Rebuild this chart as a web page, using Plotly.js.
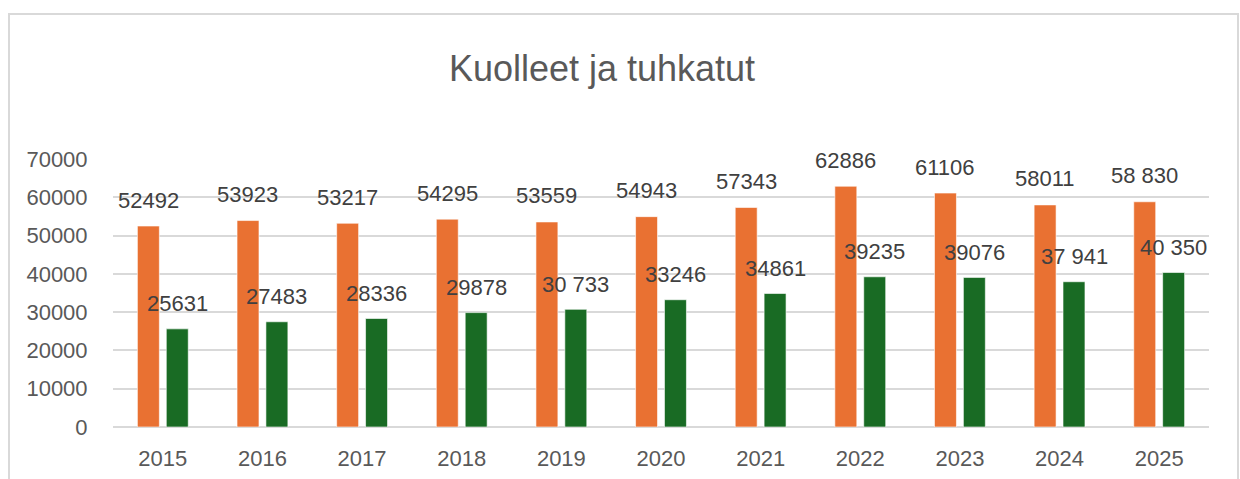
<!DOCTYPE html>
<html>
<head>
<meta charset="utf-8">
<script src="https://cdn.plot.ly/plotly-3.0.1.min.js"></script>
<style>
  html, body { margin: 0; padding: 0; background: #ffffff; }
  #wrap { position: relative; width: 1240px; height: 479px; overflow: hidden; }
  #chart { width: 1240px; height: 479px; }
  #frame { position: absolute; left: 8px; top: 13px; width: 1231px; height: 500px;
           border: 2px solid #d9d9d9; box-sizing: border-box; pointer-events: none; }
</style>
</head>
<body>
<div id="wrap">
  <div id="chart"></div>
  <div id="frame"></div>
</div>
<script>
const years = ["2015","2016","2017","2018","2019","2020","2021","2022","2023","2024","2025"];
const deaths = [52492, 53923, 53217, 54295, 53559, 54943, 57343, 62886, 61106, 58011, 58830];
const cremated = [25631, 27483, 28336, 29878, 30733, 33246, 34861, 39235, 39076, 37941, 40350];
const deathLabels = ["52492","53923","53217","54295","53559","54943","57343","62886","61106","58011","58 830"];
const crematedLabels = ["25631","27483","28336","29878","30 733","33246","34861","39235","39076","37 941","40 350"];
const yTicks = [0, 10000, 20000, 30000, 40000, 50000, 60000, 70000];
const titleText = "Kuolleet ja tuhkatut";

const FONT = "Liberation Sans, Arial, sans-serif";
const ORANGE = "#E97132";
const GREEN = "#196B24";

const traces = [
  { type: "bar", x: years, y: deaths, name: "Kuolleet",
    marker: { color: ORANGE, line: { color: "rgba(255,255,255,0.6)", width: 1 } },
    hoverinfo: "x+y" },
  { type: "bar", x: years, y: cremated, name: "Tuhkatut",
    marker: { color: GREEN, line: { color: "rgba(255,255,255,0.6)", width: 1 } },
    hoverinfo: "x+y" }
];

// category axis: annotations use the category's serial index
const annotations = [];
years.forEach((yr, i) => {
  annotations.push({ x: i, y: deaths[i], text: deathLabels[i], showarrow: false,
    xref: "x", yref: "y", xanchor: "center", yanchor: "middle", xshift: -14.5, yshift: 26,
    font: { family: FONT, size: 22, color: "#404040" } });
  annotations.push({ x: i, y: cremated[i], text: crematedLabels[i], showarrow: false,
    xref: "x", yref: "y", xanchor: "center", yanchor: "middle", xshift: 14.5, yshift: 25,
    font: { family: FONT, size: 22, color: "#404040" } });
});

const layout = {
  width: 1240, height: 479,
  margin: { l: 113, r: 31, t: 159, b: 52 },
  paper_bgcolor: "#ffffff", plot_bgcolor: "#ffffff",
  showlegend: false,
  barmode: "group", bargap: 0.42, bargroupgap: 0.24,
  title: { text: titleText, font: { family: FONT, size: 36, color: "#595959" },
           x: 0.4855, xref: "container", xanchor: "center",
           y: 1 - 68/479, yref: "container", yanchor: "middle" },
  xaxis: { type: "category", range: [-0.5, years.length - 0.5], autorange: false,
           showgrid: false, zeroline: false, showline: false,
           ticks: "outside", ticklen: 12, tickcolor: "rgba(0,0,0,0)",
           tickfont: { family: FONT, size: 22, color: "#595959" } },
  yaxis: { range: [0, 70000], autorange: false, tickvals: yTicks, ticktext: yTicks.map(String),
           showgrid: true, gridcolor: "#d9d9d9", gridwidth: 2,
           zeroline: true, zerolinecolor: "#d9d9d9", zerolinewidth: 2, showline: false,
           ticks: "outside", ticklen: 20, tickcolor: "rgba(0,0,0,0)",
           tickfont: { family: FONT, size: 22, color: "#595959" } },
  annotations: annotations,
  font: { family: FONT }
};

Plotly.newPlot("chart", traces, layout, { staticPlot: true, displayModeBar: false });
</script>
</body>
</html>
